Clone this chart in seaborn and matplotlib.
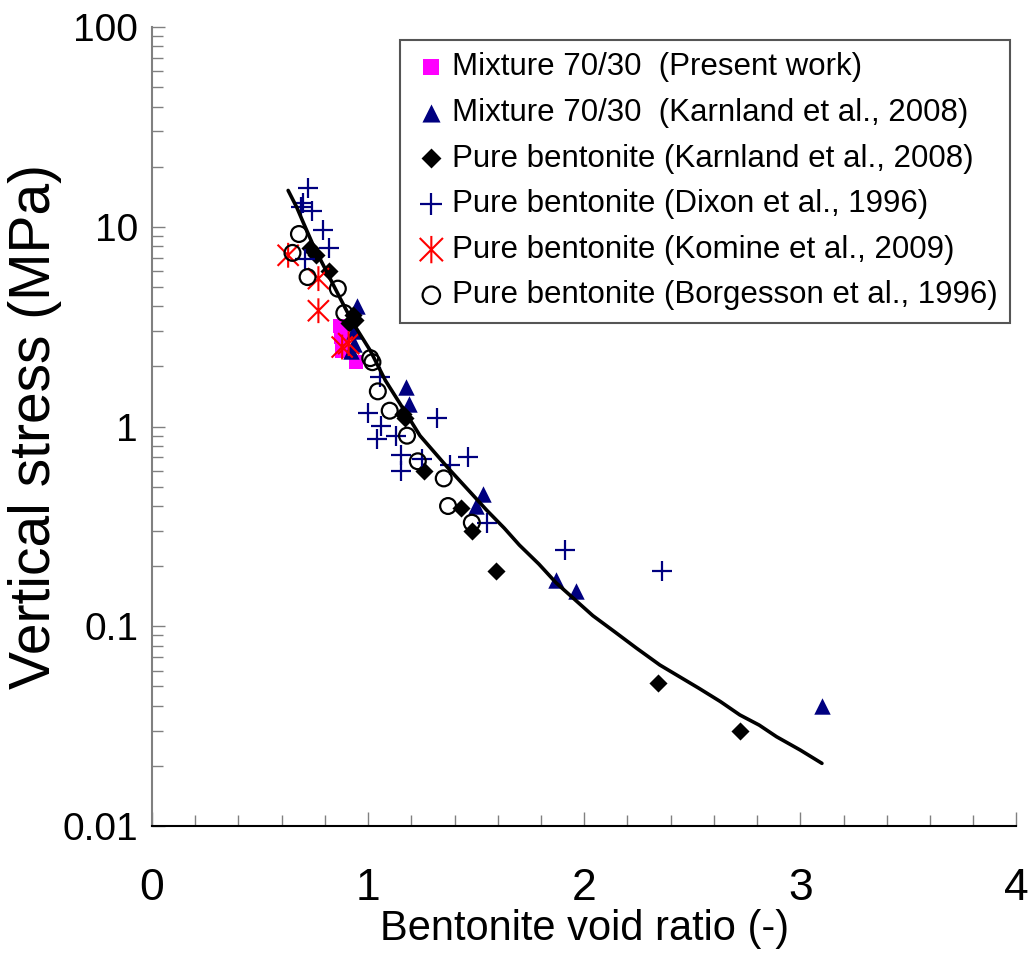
import matplotlib
matplotlib.use("Agg")
import matplotlib.pyplot as plt
import matplotlib.ticker as mticker
from matplotlib.path import Path
import pandas as pd
import seaborn as sns

# ---------------------------------------------------------------------------
# Data (void ratio e, vertical stress in MPa)
# ---------------------------------------------------------------------------

# Mixture 70/30 (Present work)
MIX_PRESENT_E = [0.87, 0.875, 0.88, 0.945]
MIX_PRESENT_P = [3.2, 2.8, 2.4, 2.1]

# Mixture 70/30 (Karnland et al., 2008)
MIX_KARN_E = [0.95, 0.935, 0.935, 0.92, 1.175, 1.19, 1.53, 1.50, 1.87, 1.96, 3.10]
MIX_KARN_P = [4.0, 3.0, 2.6, 2.4, 1.57, 1.30, 0.46, 0.40, 0.17, 0.15, 0.040]

# Pure bentonite (Karnland et al., 2008)
PURE_KARN_E = [0.73, 0.76, 0.82, 0.93, 0.94, 0.91, 1.16, 1.17, 1.26, 1.43, 1.48, 1.59, 2.34, 2.72]
PURE_KARN_P = [7.8, 7.2, 6.0, 3.6, 3.4, 3.3, 1.16, 1.10, 0.60, 0.39, 0.30, 0.19, 0.052, 0.030]

# Pure bentonite (Dixon et al., 1996)
DIXON_E = [0.72, 0.70, 0.69, 0.74, 0.79, 0.82, 0.71, 1.00, 1.054, 1.06, 1.04, 1.13,
           1.15, 1.15, 1.25, 1.32, 1.38, 1.46, 1.55, 1.91, 2.36]
DIXON_P = [15.7, 13.1, 12.5, 12.0, 9.6, 7.8, 6.9, 1.17, 1.76, 1.01, 0.87, 0.90,
           0.72, 0.60, 0.69, 1.10, 0.64, 0.70, 0.33, 0.24, 0.19]

# Pure bentonite (Komine et al., 2009)
KOMINE_E = [0.63, 0.77, 0.77, 0.91, 0.88]
KOMINE_P = [7.2, 5.5, 3.8, 2.6, 2.5]

# Pure bentonite (Borgesson et al., 1996)
BORG_E = [0.68, 0.65, 0.72, 0.86, 0.89, 1.01, 1.02, 1.045, 1.10, 1.18, 1.23, 1.35, 1.37, 1.48]
BORG_P = [9.2, 7.4, 5.6, 4.9, 3.7, 2.2, 2.1, 1.5, 1.2, 0.90, 0.67, 0.55, 0.40, 0.33]

# fitted curve
CURVE_E = [0.63, 0.67, 0.70, 0.75, 0.80, 0.87, 0.93, 1.01, 1.08, 1.16, 1.24, 1.37, 1.48,
           1.55, 1.63, 1.70, 1.79, 1.87, 1.96, 2.04, 2.14, 2.24, 2.35, 2.44, 2.53,
           2.63, 2.72, 2.81, 2.89, 3.00, 3.10]
CURVE_P = [15.2, 12.5, 10.5, 7.9, 6.2, 4.4, 3.3, 2.4, 1.70, 1.24, 0.90, 0.62, 0.46,
           0.38, 0.31, 0.255, 0.205, 0.165, 0.135, 0.113, 0.094, 0.078, 0.064, 0.056,
           0.049, 0.042, 0.036, 0.032, 0.028, 0.024, 0.0206]

X_TICKS = [0, 1, 2, 3, 4]
Y_TICKS = [0.01, 0.1, 1, 10, 100]
Y_TICK_LABELS = ["0.01", "0.1", "1", "10", "100"]

NAVY = "#000080"

sns.set_theme(style="ticks")
plt.rcParams["font.family"] = ["Liberation Sans", "DejaVu Sans"]
plt.rcParams["text.color"] = "black"
plt.rcParams["axes.labelcolor"] = "black"

# asterisk marker (vertical bar + X)
star = Path(
    [(0, -1), (0, 1), (-0.85, -0.85), (0.85, 0.85), (-0.85, 0.85), (0.85, -0.85)],
    [Path.MOVETO, Path.LINETO] * 3,
)

fig = plt.figure(figsize=(10.34, 9.65), dpi=100)
ax = fig.add_axes([0.147, 0.144, 0.836, 0.828])

series = [
    (MIX_PRESENT_E, MIX_PRESENT_P, "Mixture 70/30  (Present work)",
     dict(marker="s", s=100, color="#ff00ff", linewidth=0)),
    (MIX_KARN_E, MIX_KARN_P, "Mixture 70/30  (Karnland et al., 2008)",
     dict(marker="^", s=140, color=NAVY, linewidth=0)),
    (PURE_KARN_E, PURE_KARN_P, "Pure bentonite (Karnland et al., 2008)",
     dict(marker="D", s=85, color="black", linewidth=0)),
    (DIXON_E, DIXON_P, "Pure bentonite (Dixon et al., 1996)",
     dict(marker="+", s=190, color=NAVY, linewidth=1.6)),
    (KOMINE_E, KOMINE_P, "Pure bentonite (Komine et al., 2009)",
     dict(marker=star, s=320, facecolor="none", edgecolor="red", linewidth=1.5)),
    (BORG_E, BORG_P, "Pure bentonite (Borgesson et al., 1996)",
     dict(marker="o", s=130, facecolor="none", edgecolor="black", linewidth=1.6)),
]

for e, p, label, kw in series:
    df = pd.DataFrame({"e": e, "p": p})
    sns.scatterplot(data=df, x="e", y="p", ax=ax, label=label, zorder=3, **kw)

curve = pd.DataFrame({"e": CURVE_E, "p": CURVE_P})
sns.lineplot(data=curve, x="e", y="p", ax=ax, color="black", linewidth=2.6,
             sort=False, estimator=None, zorder=5, label="_nolegend_")

ax.set_yscale("log")
ax.set_xlim(0, 4)
ax.set_ylim(0.01, 100)
ax.xaxis.set_major_locator(mticker.FixedLocator(X_TICKS))
ax.xaxis.set_minor_locator(mticker.MultipleLocator(0.2))
ax.yaxis.set_major_locator(mticker.FixedLocator(Y_TICKS))
ax.yaxis.set_major_formatter(mticker.FixedFormatter(Y_TICK_LABELS))
ax.yaxis.set_minor_locator(mticker.LogLocator(base=10, subs=range(2, 10)))
ax.yaxis.set_minor_formatter(mticker.NullFormatter())

ax.tick_params(axis="both", which="both", direction="in", colors="#808080")
ax.tick_params(axis="x", which="major", length=10, width=1, pad=30, labelcolor="black",
               labelsize=32)
ax.tick_params(axis="x", which="minor", length=8, width=1)
ax.tick_params(axis="y", which="major", length=9, width=1, pad=10, labelcolor="black",
               labelsize=28)
ax.tick_params(axis="y", which="minor", length=8, width=1)

sns.despine(ax=ax)
ax.spines["left"].set_color("#808080")
ax.spines["left"].set_linewidth(1.5)
ax.spines["bottom"].set_color("black")
ax.spines["bottom"].set_linewidth(1.5)

ax.set_xlabel("Bentonite void ratio (-)", fontsize=30, labelpad=0)
ax.set_ylabel("Vertical stress (MPa)", fontsize=41, labelpad=0)

leg = ax.legend(loc="upper left", bbox_to_anchor=(0.287, 0.984), borderaxespad=0,
                frameon=True, fancybox=False, edgecolor="#555555", framealpha=1,
                prop={"size": 22.5}, markerscale=1.1,
                handletextpad=0.05, handlelength=1.2, labelspacing=0.5,
                borderpad=0.4)
leg.get_frame().set_linewidth(1.5)

fig.savefig("out.png", dpi=100)
